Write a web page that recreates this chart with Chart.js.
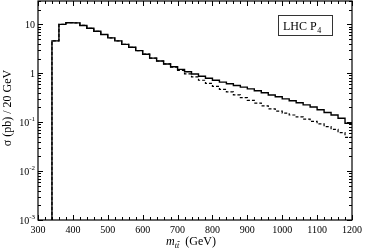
<!DOCTYPE html>
<html lang="en">
<head>
<meta charset="UTF-8">
<title>LHC P4 m_tt</title>
<script src="https://cdn.jsdelivr.net/npm/chart.js"></script>
<style>
    body {
        margin: 0;
        background: #fff;
    }
    .wrap {
        width: 365px;
        height: 252px;
        position: relative;
    }
</style>
</head>
<body>
<div class="wrap"><canvas id="mttChart"></canvas></div>
<script>
    // bin edges, GeV (20 GeV bins)
    const binEdges = [340, 360, 380, 400, 420, 440, 460, 480, 500, 520, 540, 560, 580, 600, 620,
        640, 660, 680, 700, 720, 740, 760, 780, 800, 820, 840, 860, 880, 900, 920, 940, 960, 980,
        1000, 1020, 1040, 1060, 1080, 1100, 1120, 1140, 1160, 1180, 1200];
    // sigma (pb) per bin, solid curve
    const solidVals = [4.6, 10.0, 10.8, 10.7, 9.5, 8.3, 7.2, 6.2, 5.3, 4.6, 3.9, 3.4, 2.9, 2.45,
        2.04, 1.78, 1.55, 1.36, 1.20, 1.07, 0.966, 0.87, 0.79, 0.72, 0.66, 0.61, 0.56, 0.52, 0.48,
        0.44, 0.40, 0.36, 0.33, 0.30, 0.275, 0.25, 0.226, 0.204, 0.18, 0.158, 0.14, 0.12, 0.095];
    // dashed curve
    const dashedVals = [4.6, 10.0, 10.8, 10.7, 9.5, 8.3, 7.2, 6.2, 5.3, 4.6, 3.9, 3.4, 2.9, 2.45,
        2.04, 1.78, 1.55, 1.33, 1.14, 0.97, 0.84, 0.72, 0.62, 0.54, 0.47, 0.415, 0.36, 0.317, 0.278,
        0.246, 0.216, 0.187, 0.168, 0.153, 0.14, 0.128, 0.115, 0.104, 0.092, 0.081, 0.071, 0.061, 0.049];
    const xTicks = [300, 400, 500, 600, 700, 800, 900, 1000, 1100, 1200];
    const yTicks = [0.001, 0.01, 0.1, 1, 10];
    const yTickBase = ['10', '10', '10', '1', '10'];
    const yTickExp = ['-3', '-2', '-1', '', ''];
    const xMin = 300, xMax = 1200, yMin = 0.001, yMax = 30;

    const serif = '"Liberation Serif", "Times New Roman", serif';

    function stepPoints(vals) {
        const pts = [{x: binEdges[0], y: yMin}];
        vals.forEach((v, i) => pts.push({x: binEdges[i], y: v}));
        pts.push({x: binEdges[binEdges.length - 1], y: vals[vals.length - 1]});
        return pts;
    }

    // frame, inward ticks, labels, titles and the box
    const decorations = {
        id: 'decorations',
        afterDraw(chart) {
            const {ctx, chartArea: a, scales: {x, y}} = chart;
            ctx.save();
            ctx.strokeStyle = '#000';
            ctx.fillStyle = '#000';
            ctx.lineWidth = 1.2;
            ctx.strokeRect(a.left, a.top, a.right - a.left, a.bottom - a.top);

            ctx.lineWidth = 1;
            ctx.beginPath();
            for (let v = xMin; v <= xMax; v += 20) {
                const px = Math.round(x.getPixelForValue(v)) + 0.5;
                const len = v % 100 === 0 ? 5 : 3;
                ctx.moveTo(px, a.bottom); ctx.lineTo(px, a.bottom - len);
                ctx.moveTo(px, a.top); ctx.lineTo(px, a.top + len);
            }
            for (let d = -3; d <= 1; d++) {
                for (let k = 1; k <= 9; k++) {
                    const v = k * Math.pow(10, d);
                    if (v > yMax) break;
                    const py = Math.round(y.getPixelForValue(v)) + 0.5;
                    const len = k === 1 ? 5 : 3;
                    ctx.moveTo(a.left, py); ctx.lineTo(a.left + len, py);
                    ctx.moveTo(a.right, py); ctx.lineTo(a.right - len, py);
                }
            }
            ctx.stroke();

            // x tick labels
            ctx.font = '10px ' + serif;
            ctx.textAlign = 'center';
            ctx.textBaseline = 'alphabetic';
            xTicks.forEach(v => ctx.fillText(String(v), x.getPixelForValue(v), a.bottom + 13));

            // y tick labels with exponents
            ctx.textAlign = 'right';
            yTicks.forEach((v, i) => {
                const py = y.getPixelForValue(v);
                const right = a.left - 3;
                let supW = 0;
                if (yTickExp[i]) {
                    ctx.font = '7px ' + serif;
                    supW = ctx.measureText(yTickExp[i]).width;
                    ctx.fillText(yTickExp[i], right, py - 1);
                }
                ctx.font = '10px ' + serif;
                ctx.fillText(yTickBase[i], right - supW, py + 3.5);
            });

            // x title: m_tt (GeV)
            ctx.textAlign = 'left';
            const mFont = 'italic 12px ' + serif;
            const subFont = 'italic 8px ' + serif;
            const restFont = '12px ' + serif;
            ctx.font = mFont; const wM = ctx.measureText('m').width;
            ctx.font = subFont; const wT = ctx.measureText('t').width;
            ctx.font = restFont; const wR = ctx.measureText('  (GeV)').width;
            const total = wM + 2 * wT + wR;
            let tx = (a.left + a.right) / 2 - total / 2 - 4;
            const base = 245;
            ctx.font = mFont; ctx.fillText('m', tx, base); tx += wM;
            ctx.font = subFont;
            ctx.fillText('t', tx, base + 3);
            ctx.fillText('t', tx + wT, base + 3);
            ctx.beginPath();
            ctx.lineWidth = 0.7;
            ctx.moveTo(tx + wT + 0.5, base - 3.5); ctx.lineTo(tx + 2 * wT + 0.5, base - 3.5);
            ctx.stroke();
            tx += 2 * wT;
            ctx.font = restFont; ctx.fillText('  (GeV)', tx, base);

            // y title
            ctx.save();
            ctx.translate(8, 108);
            ctx.rotate(-Math.PI / 2);
            ctx.textAlign = 'center';
            ctx.textBaseline = 'middle';
            ctx.font = '12px ' + serif;
            ctx.fillText('σ (pb) / 20 GeV', 0, 0);
            ctx.restore();

            // label box
            ctx.lineWidth = 1;
            ctx.strokeStyle = '#333';
            ctx.strokeRect(278.5, 15.5, 54, 20);
            ctx.textAlign = 'left';
            ctx.font = '12px ' + serif;
            ctx.fillText('LHC P', 283, 29.5);
            const wL = ctx.measureText('LHC P').width;
            ctx.font = '8px ' + serif;
            ctx.fillText('4', 283 + wL + 0.5, 33);
            ctx.restore();
        }
    };

    new Chart(document.getElementById('mttChart').getContext('2d'), {
        type: 'line',
        data: {
            datasets: [{
                data: stepPoints(solidVals),
                borderColor: '#000',
                borderWidth: 1.4,
                stepped: true,
                pointRadius: 0,
                fill: false
            }, {
                data: stepPoints(dashedVals),
                borderColor: '#000',
                borderWidth: 1.2,
                borderDash: [3, 2],
                stepped: true,
                pointRadius: 0,
                fill: false
            }]
        },
        options: {
            responsive: true,
            maintainAspectRatio: false,
            animation: false,
            layout: {padding: {left: 38, top: 1, right: 13, bottom: 32}},
            plugins: {legend: {display: false}, tooltip: {enabled: false}},
            scales: {
                x: {
                    type: 'linear', min: xMin, max: xMax,
                    grid: {display: false, drawTicks: false},
                    border: {display: false},
                    ticks: {display: false},
                    afterFit: s => { s.height = 0; }
                },
                y: {
                    type: 'logarithmic', min: yMin, max: yMax,
                    grid: {display: false, drawTicks: false},
                    border: {display: false},
                    ticks: {display: false},
                    afterFit: s => { s.width = 0; }
                }
            }
        },
        plugins: [decorations]
    });
</script>
</body>
</html>
